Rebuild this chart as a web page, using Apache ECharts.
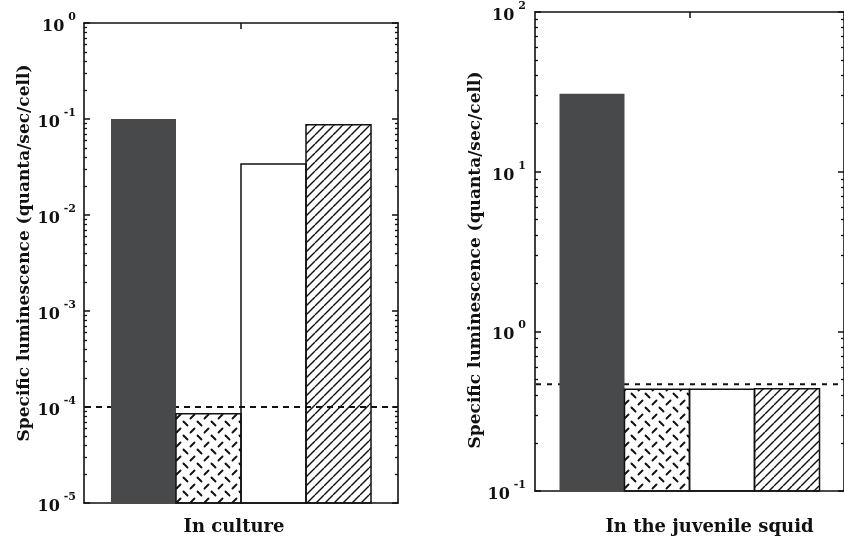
<!DOCTYPE html>
<html><head><meta charset="utf-8">
<script src="https://cdn.jsdelivr.net/npm/echarts@6/dist/echarts.min.js"></script>
<style>html,body{margin:0;padding:0;background:#fff}#c{width:844px;height:541px}</style>
</head><body><div id="c"></div>
<script>
// ---- data ----
const cultureCategory = ['In culture'];
const squidCategory = ['In the juvenile squid'];
const barNames = ['dark', 'crosshatch', 'open', 'hatched'];
const cultureValues = [0.1, 0.000085, 0.034, 0.087];
const squidValues = [30.8, 0.433, 0.433, 0.437];
const cultureLimit = [0.0001];
const squidLimit = [0.466];
const cultureDecades = [1e-5, 1e-4, 1e-3, 1e-2, 1e-1, 1];
const squidDecades = [1e-1, 1, 10, 100];
const yTitle = 'Specific luminescence (quanta/sec/cell)';

// ---- helpers ----
const FONT = 'DejaVu Serif';
function minorTicks(decades) {
  const out = [];
  for (let i = 0; i < decades.length - 1; i++)
    for (let k = 2; k <= 9; k++) out.push(+(decades[i] * k).toPrecision(6));
  return out;
}
function hatchPattern() {
  const s = 9, c = document.createElement('canvas');
  c.width = s; c.height = s;
  const g = c.getContext('2d');
  g.strokeStyle = '#111'; g.lineWidth = 1.4;
  for (const o of [-s, 0, s]) { g.beginPath(); g.moveTo(o, s); g.lineTo(o + s, 0); g.stroke(); }
  return c;
}
function crossPattern() {
  const s = 14, c = document.createElement('canvas');
  c.width = s; c.height = s;
  const g = c.getContext('2d');
  g.strokeStyle = '#111'; g.lineWidth = 1.9; g.lineCap = 'round';
  const seg = (cx, cy, dir) => { g.beginPath(); g.moveTo(cx - 2, cy - 2 * dir); g.lineTo(cx + 2, cy + 2 * dir); g.stroke(); };
  seg(3.5, 3.5, 1);
  seg(10.5, 10.5, -1);
  return c;
}
const hatchImg = hatchPattern();
const crossImg = crossPattern();
const barStyles = [
  { fill: '#47494b', stroke: null, lineWidth: 0 },
  { fill: { image: crossImg, repeat: 'repeat' }, stroke: '#111', lineWidth: 1.5 },
  { fill: 'rgba(255,255,255,0)', stroke: '#111', lineWidth: 1.5 },
  { fill: { image: hatchImg, repeat: 'repeat' }, stroke: '#111', lineWidth: 1.5 }
];

const tickLabel = {
  formatter: v => '{b|10}{s|' + Math.round(Math.log10(v)) + '}',
  rich: {
    b: { fontFamily: FONT, fontWeight: 'bold', fontSize: 16, color: '#111', padding: [8, 0, 0, 0] },
    s: { fontFamily: FONT, fontWeight: 'bold', fontSize: 11, color: '#111', padding: [0, 0, 12, 4] }
  }
};
const axisLine = { show: true, lineStyle: { color: '#111', width: 1.6 } };

function buildGrid(gi, cats, decades, opts) {
  const xAxes = [
    { gridIndex: gi, type: 'category', data: cats, position: 'bottom', axisLine,
      axisTick: { show: false },
      axisLabel: { fontFamily: FONT, fontWeight: 'bold', fontSize: opts.catSize, color: '#111',
                   margin: opts.catMargin, padding: opts.catPad } },
    { gridIndex: gi, type: 'category', data: cats, position: 'top', axisLine,
      axisTick: { show: true, inside: true, alignWithLabel: true, length: 6, lineStyle: { color: '#111', width: 1.5 } },
      axisLabel: { show: false } }
  ];
  const ymin = decades[0], ymax = decades[decades.length - 1];
  const common = { gridIndex: gi, type: 'log', logBase: 10, min: ymin, max: ymax, splitLine: { show: false } };
  const yAxes = [
    Object.assign({}, common, { position: 'left', axisLine,
      axisTick: { show: true, inside: true, length: 6, customValues: decades, lineStyle: { color: '#111', width: 1.5 } },
      axisLabel: Object.assign({ customValues: decades, margin: opts.labelMargin }, tickLabel),
      name: yTitle, nameLocation: 'middle', nameGap: opts.nameGap,
      nameTextStyle: { fontFamily: FONT, fontWeight: 'bold', fontSize: opts.titleSize, color: '#111', padding: opts.titlePad } }),
    Object.assign({}, common, { position: 'left', axisLine: { show: false },
      axisTick: { show: true, inside: true, length: 3, customValues: minorTicks(decades), lineStyle: { color: '#111', width: 1.3 } },
      axisLabel: { show: false } }),
    Object.assign({}, common, { position: 'right', axisLine,
      axisTick: { show: true, inside: true, length: 6, customValues: decades, lineStyle: { color: '#111', width: 1.5 } },
      axisLabel: { show: false } }),
    Object.assign({}, common, { position: 'right', axisLine: { show: false },
      axisTick: { show: true, inside: true, length: 3, customValues: minorTicks(decades), lineStyle: { color: '#111', width: 1.3 } },
      axisLabel: { show: false } })
  ];
  return { xAxes, yAxes };
}

const g0 = buildGrid(0, cultureCategory, cultureDecades,
  { catSize: 18, catMargin: 15, catPad: [0, 14, 0, 0], labelMargin: 8, nameGap: 51, titleSize: 17, titlePad: [0, 0, 0, 20] });
const g1 = buildGrid(1, squidCategory, squidDecades,
  { catSize: 18, catMargin: 27, catPad: [0, 0, 0, 40], labelMargin: 9, nameGap: 45, titleSize: 17, titlePad: [0, 17, 0, 0] });

const xAxis = g0.xAxes.concat(g1.xAxes);
const yAxis = g0.yAxes.concat(g1.yAxes);

// bars drawn through the axes' own scales (log bars rise from the axis minimum)
function barSeries(values, yMin, xi, yi, width) {
  return {
    type: 'custom', xAxisIndex: xi, yAxisIndex: yi, z: 3, silent: true,
    encode: { x: 0, y: 2 },
    data: values.map((v, i) => [0, i, v]),
    renderItem: function (params, api) {
      const idx = api.value(1);
      const top = api.coord([api.value(0), api.value(2)]);
      const base = api.coord([api.value(0), yMin]);
      const x = top[0] - values.length * width / 2 + idx * width;
      return { type: 'rect', shape: { x: x, y: top[1], width: width, height: base[1] - top[1] },
               style: barStyles[idx] };
    }
  };
}
// dashed detection-limit line across the whole plot, positioned by the y scale
function limitSeries(limit, xi, yi, dash) {
  return {
    type: 'custom', xAxisIndex: xi, yAxisIndex: yi, z: 1, silent: true,
    encode: { x: 0, y: 1 },
    data: limit.map(v => [0, v]),
    renderItem: function (params, api) {
      const cs = params.coordSys;
      const y = api.coord([api.value(0), api.value(1)])[1];
      return { type: 'line', shape: { x1: cs.x + 1, y1: y, x2: cs.x + cs.width - 1, y2: y },
               style: { stroke: '#111', lineWidth: 2, lineDash: dash } };
    }
  };
}

const option = {
  backgroundColor: '#fff',
  animation: false,
  grid: [
    { left: 84, top: 23, width: 314, height: 480 },
    { left: 535, top: 12, width: 316, height: 479 }
  ],
  xAxis, yAxis,
  series: [
    barSeries(cultureValues, cultureDecades[0], 0, 0, 65),
    limitSeries(cultureLimit, 0, 0, [6, 5]),
    barSeries(squidValues, squidDecades[0], 2, 4, 65),
    limitSeries(squidLimit, 2, 4, [5, 6])
  ]
};
const chart = echarts.init(document.getElementById('c'), null, { renderer: 'canvas' });
chart.setOption(option);
</script>
</body></html>
